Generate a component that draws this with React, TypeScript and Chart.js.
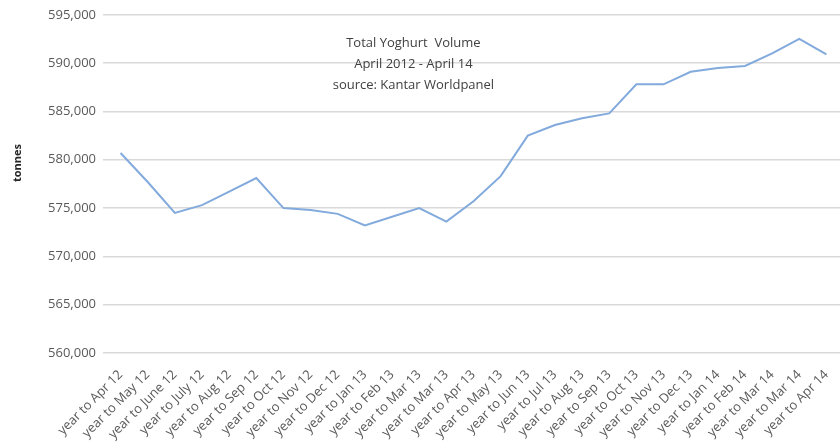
import React, { useEffect, useRef } from "react";
import { Chart, registerables } from "chart.js";

Chart.register(...registerables);

const categories = [
  "year to Apr 12", "year to May 12", "year to June 12", "year to July 12",
  "year to Aug 12", "year to Sep 12", "year to Oct 12", "year to Nov 12",
  "year to Dec 12", "year to Jan 13", "year to Feb 13", "year to Mar 13",
  "year to Mar 13", "year to Apr 13", "year to May 13", "year to Jun 13",
  "year to Jul 13", "year to Aug 13", "year to Sep 13", "year to Oct 13",
  "year to Nov 13", "year to Dec 13", "year to Jan 14", "year to Feb 14",
  "year to Mar 14", "year to Mar 14", "year to Apr 14",
];

const volume = [
  580700, 577700, 574500, 575300, 576700, 578100, 575000, 574800,
  574400, 573200, 574100, 575000, 573600, 575700, 578300, 582500,
  583600, 584300, 584800, 587800, 587800, 589100, 589500, 589700,
  591000, 592500, 590900,
];

const titleLines = ["Total Yoghurt  Volume", "April 2012 - April 14", "source: Kantar Worldpanel"];
const yAxisTitle = "tonnes";
const yMin = 560000;
const yMax = 595000;
const yStep = 5000;

const textPlugin = {
  id: "textPlugin",
  afterDraw(chart: any) {
    const ctx = chart.ctx;
    const ca = chart.chartArea;
    ctx.save();
    ctx.fillStyle = "#404040";
    ctx.font = "13px 'Open Sans'";
    ctx.textAlign = "center";
    ctx.textBaseline = "middle";
    const cx = ca.left + (ca.right - ca.left) * 0.418;
    titleLines.forEach((t, i) => {
      ctx.fillText(t, cx, 43 + i * 21);
    });
    ctx.translate(18, 163);
    ctx.rotate(-Math.PI / 2);
    ctx.font = "bold 11px 'Open Sans'";
    ctx.fillStyle = "#262626";
    ctx.fillText(yAxisTitle, 0, 0);
    ctx.restore();
  },
};

export default function App() {
  const ref = useRef<HTMLCanvasElement | null>(null);
  useEffect(() => {
    document.body.style.margin = "0";
    const chart = new Chart(ref.current as HTMLCanvasElement, {
      type: "line",
      data: {
        labels: categories,
        datasets: [
          {
            data: volume,
            borderColor: "#82aadc",
            borderWidth: 2,
            pointRadius: 0,
            tension: 0,
            fill: false,
          },
        ],
      },
      options: {
        responsive: false,
        animation: false,
        layout: { padding: { top: 10, left: 0, right: 0, bottom: 0 } },
        plugins: { legend: { display: false }, tooltip: { enabled: false }, title: { display: false } },
        scales: {
          x: {
            offset: true,
            grid: { display: false },
            border: { display: false },
            ticks: {
              autoSkip: false,
              maxRotation: 45,
              minRotation: 45,
              color: "#595959",
              font: { family: "'Open Sans'", size: 13 },
              padding: 6,
            },
            afterFit(scale: any) {
              scale.height = 90;
              scale.paddingRight = 0;
              scale.paddingLeft = 0;
            },
          },
          y: {
            min: yMin,
            max: yMax,
            grid: { color: "#d9d9d9", lineWidth: 1.5, tickLength: 4, tickColor: "#d9d9d9" },
            border: { display: false },
            ticks: {
              stepSize: yStep,
              color: "#595959",
              font: { family: "'Open Sans'", size: 13 },
              padding: 7,
              callback: (v: any) => Number(v).toLocaleString("en-US"),
            },
            afterFit(scale: any) {
              scale.width = 107;
            },
          },
        },
      },
      plugins: [textPlugin],
    });
    return () => chart.destroy();
  }, []);
  return <canvas ref={ref} width={840} height={443} style={{ display: "block" }} />;
}
